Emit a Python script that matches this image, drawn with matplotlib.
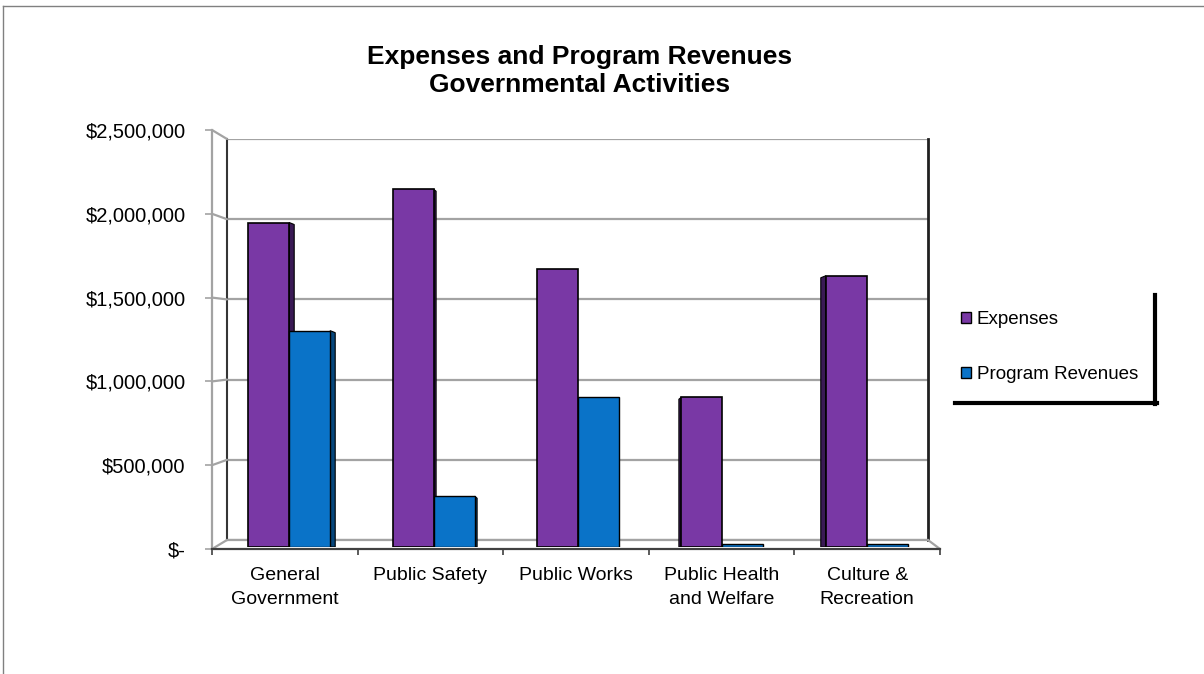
import numpy as np
import matplotlib
matplotlib.use('Agg')
import matplotlib.pyplot as plt
from matplotlib.patches import Patch, Polygon, ConnectionPatch
from matplotlib.lines import Line2D

plt.rcParams['font.family'] = ['Liberation Sans', 'DejaVu Sans']

categories = ['General\nGovernment', 'Public Safety', 'Public Works',
              'Public Health\nand Welfare', 'Culture &\nRecreation']
expenses = [1950000, 2150000, 1670000, 900000, 1630000]
revenues = [1300000, 305000, 900000, 18000, 20000]
series_names = ['Expenses', 'Program Revenues']
yticks = [0, 500000, 1000000, 1500000, 2000000, 2500000]

W, H = 1204, 674
PURPLE = '#7938A5'
BLUE = '#0A73C8'
PURPLE_DARK = '#3A1A55'
BLUE_DARK = '#06467C'
GRID = '#a3a3a3'


def rect(l, t, r, b):
    # pixel box -> figure fraction
    return [l / W, 1 - b / H, (r - l) / W, (b - t) / H]


def money(v):
    if v == 0:
        return '$-'
    return '${:,.0f}'.format(v)


fig = plt.figure(figsize=(W / 100, H / 100), dpi=100)

# back wall
ax_back = fig.add_axes(rect(227, 139, 928, 540))
ax_back.set_xlim(0, 1)
ax_back.set_ylim(0, yticks[-1])
ax_back.set_yticks(yticks)
ax_back.set_xticks([])
ax_back.yaxis.grid(True, color=GRID, lw=1.6)
ax_back.tick_params(length=0, labelleft=False)
ax_back.spines['top'].set_visible(False)
ax_back.spines['left'].set_color('#353535')
ax_back.spines['left'].set_linewidth(1.5)
ax_back.spines['right'].set_color('#202020')
ax_back.spines['right'].set_linewidth(2)
ax_back.spines['bottom'].set_color(GRID)
ax_back.spines['bottom'].set_linewidth(1.6)
ax_back.set_zorder(0)

# front frame: tick labels, floor edge, left wall edge
ax_front = fig.add_axes(rect(212, 130, 940, 549))
ax_front.patch.set_visible(False)
ax_front.set_xlim(-0.5, len(categories) - 0.5)
ax_front.set_ylim(0, yticks[-1])
ax_front.set_yticks(yticks)
ax_front.set_yticklabels([money(v) for v in yticks])
ax_front.set_xticks(np.arange(len(categories)))
ax_front.set_xticklabels(categories, linespacing=1.5)
ax_front.set_xticks(np.arange(len(categories) + 1) - 0.5, minor=True)
ax_front.tick_params(axis='y', length=5, width=1.2, color=GRID, pad=14, labelsize=14.5)
ax_front.tick_params(axis='x', which='major', length=0, pad=13, labelsize=14)
ax_front.tick_params(axis='x', which='minor', length=4, width=1.2, color='#404040')
ax_front.spines['top'].set_visible(False)
ax_front.spines['right'].set_visible(False)
ax_front.spines['left'].set_color(GRID)
ax_front.spines['left'].set_linewidth(1.6)
ax_front.spines['bottom'].set_color('#404040')
ax_front.spines['bottom'].set_linewidth(1.6)
ax_front.set_zorder(1)

# left wall and floor diagonals
for v in yticks:
    con = ConnectionPatch(xyA=(0, v), coordsA=ax_front.get_yaxis_transform(),
                          xyB=(0, v), coordsB=ax_back.get_yaxis_transform(),
                          color=GRID, lw=1.6)
    fig.add_artist(con)
con = ConnectionPatch(xyA=(1, 0), coordsA=ax_front.transAxes,
                      xyB=(1, 0), coordsB=ax_back.transAxes, color=GRID, lw=1.6)
fig.add_artist(con)

# bars
ax_bars = fig.add_axes(rect(217, 131, 939, 547))
ax_bars.set_xlim(-0.5, len(categories) - 0.5)
ax_bars.set_ylim(0, yticks[-1])
ax_bars.axis('off')
ax_bars.set_zorder(2)

x = np.arange(len(categories))
w = 0.284
ax_bars.bar(x - w / 2, expenses, w, color=PURPLE, edgecolor='black', lw=1.2, zorder=3)
ax_bars.bar(x + w / 2, revenues, w, color=BLUE, edgecolor='black', lw=1.0, zorder=3)

# side faces for the 3d look
px_x = (len(categories)) / 722.0
px_y = yticks[-1] / 416.0
for i in range(len(categories)):
    dx = 2.5 * (2 - i)
    if dx == 0:
        continue
    for xc, h, dark in [(x[i] - w / 2, expenses[i], PURPLE_DARK),
                        (x[i] + w / 2, revenues[i], BLUE_DARK)]:
        edge = xc + w / 2 if dx > 0 else xc - w / 2
        ddx = dx * px_x
        ddy = 2 * px_y
        pts = [(edge, 0), (edge, h), (edge + ddx, max(h - ddy, 0)), (edge + ddx, 0)]
        ax_bars.add_patch(Polygon(pts, closed=True, fc=dark, ec='black', lw=0.8, zorder=2))

# legend
handles = [Patch(fc=PURPLE, ec='black', lw=1), Patch(fc=BLUE, ec='black', lw=1)]
fig.legend(handles, series_names, loc='upper left',
           bbox_to_anchor=(961 / W, 1 - 311 / H), frameon=False, fontsize=13.5,
           handlelength=0.55, handleheight=0.55, handletextpad=0.3,
           labelspacing=2.05, borderpad=0, borderaxespad=0)
fig.add_artist(Line2D([1155 / W, 1155 / W], [1 - 295 / H, 1 - 404 / H],
                      transform=fig.transFigure, color='black', lw=3))
fig.add_artist(Line2D([955 / W, 1157 / W], [1 - 403 / H, 1 - 403 / H],
                      transform=fig.transFigure, color='black', lw=3))

# title
fig.text(580 / W, 1 - 71 / H, 'Expenses and Program Revenues\nGovernmental Activities',
         ha='center', va='center', fontsize=19, fontweight='bold', linespacing=1.2)

# outer border (left and top visible)
fig.add_artist(Line2D([3 / W, 3 / W], [0, 1 - 6 / H], transform=fig.transFigure,
                      color='#808080', lw=1))
fig.add_artist(Line2D([3 / W, 1], [1 - 6 / H, 1 - 6 / H], transform=fig.transFigure,
                      color='#808080', lw=1))

fig.savefig('out.png', dpi=100)
